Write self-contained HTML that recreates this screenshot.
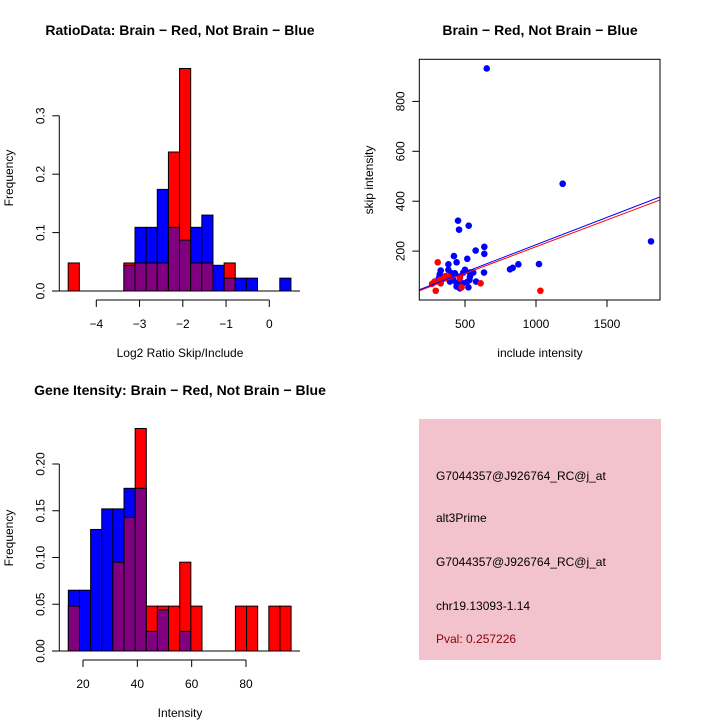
<!DOCTYPE html>
<html><head><meta charset="utf-8"><style>
html,body{margin:0;padding:0;background:#fff;}
svg{display:block;font-family:"Liberation Sans",Arial,sans-serif;}
</style></head><body>
<svg id="s" width="720" height="720" xmlns="http://www.w3.org/2000/svg">
<rect width="720" height="720" fill="#fff"/>
<g id="p1"></g>
<g id="p2"></g>
<g id="p3"></g>
<g>
<rect x="419" y="419" width="242" height="241" fill="#f2c2cd"/>
<text x="436" y="480" font-size="12">G7044357@J926764_RC@j_at</text>
<text x="436" y="522" font-size="12">alt3Prime</text>
<text x="436" y="566" font-size="12">G7044357@J926764_RC@j_at</text>
<text x="436" y="610" font-size="12">chr19.13093-1.14</text>
<text x="436" y="643" font-size="12" fill="#8b0000">Pval: 0.257226</text>
</g>
</svg>
<script>
// Ratio histogram data
const ratioBinStart = -4.65, ratioBinWidth = 0.2575;
const ratioRed  = [0.048,0,0,0,0,0.048,0.048,0.048,0.048,0.238,0.381,0.048,0.048,0,0.048,0,0,0,0,0];
const ratioBlue = [0,0,0,0,0,0.044,0.109,0.109,0.174,0.109,0.087,0.109,0.130,0.044,0.022,0.022,0.022,0,0,0.022];
const ratioXTicks = [-4,-3,-2,-1,0];
const ratioYTicks = [0,0.1,0.2,0.3];
const ratioYLabels = ["0.0","0.1","0.2","0.3"];
// Gene intensity histogram data
const intBinStart = 14.6, intBinWidth = 4.1;
const intRed  = [0.048,0,0,0,0.095,0.143,0.238,0.048,0.048,0.048,0.095,0.048,0,0,0,0.048,0.048,0,0.048,0.048];
const intBlue = [0.065,0.065,0.130,0.152,0.152,0.174,0.174,0.021,0.044,0,0.021,0,0,0,0,0,0,0,0,0];
const intXTicks = [20,40,60,80];
const intYTicks = [0,0.05,0.10,0.15,0.20];
const intYLabels = ["0.00","0.05","0.10","0.15","0.20"];
// Scatter data
const blueX = [653,1188,1810,451,526,458,575,636,636,422,441,516,383,634,578,817,836,876,1021,329,322,317,352,383,406,429,464,500,488,535,558,531,524,464,483,441,394,359,418,512,535,441,364];
const blueY = [932,470,239,322,302,286,202,217,189,180,155,169,147,114,78,127,133,147,148,122,107,92,92,125,111,111,98,125,114,98,114,84,55,51,71,71,78,98,84,75,114,58,98];
const redX = [308,1031,294,268,286,610,329,352,364,383,464,324,476];
const redY = [155,41,41,69,78,71,71,92,100,98,92,85,55];
const blueFit = [2.0,0.2195];
const redFit = [2.8,0.2147];
const scatXTicks = [500,1000,1500];
const scatYTicks = [200,400,600,800];

const NS="http://www.w3.org/2000/svg";
function mk(parent,tag,attrs,text){const e=document.createElementNS(NS,tag);for(const k in attrs)e.setAttribute(k,attrs[k]);if(text!==undefined)e.textContent=text;parent.appendChild(e);return e;}

function histogram(g,o){
  const xs=v=>o.x0px+(v-o.x0v)*o.xk, ys=v=>o.y0px-v*o.yk;
  const n=o.red.length;
  for(let i=0;i<n;i++){
    const a=o.start+i*o.width,b=a+o.width,x1=xs(a),x2=xs(b);
    const r=o.red[i],bl=o.blue[i],mn=Math.min(r,bl),mx=Math.max(r,bl);
    if(mx>0){
      const e=mk(g,'rect',{x:x1,y:ys(mx),width:x2-x1,height:ys(0)-ys(mx),fill:r>=bl?'#ff0000':'#0000ff',stroke:'#000','stroke-width':1});
      
      
    }
    if(mn>0){
      const e=mk(g,'rect',{x:x1,y:ys(mn),width:x2-x1,height:ys(0)-ys(mn),fill:'#800080',stroke:'#000','stroke-width':1});
      
      
    }
  }
  // baseline
  const bl=mk(g,'line',{x1:o.baseL,x2:o.baseR,y1:ys(0),y2:ys(0),stroke:'#000','stroke-width':1});
  
  
  // x axis
  const xa=mk(g,'g',{});
  
  
  const ay=o.xAxisY;
  mk(xa,'line',{x1:xs(o.xt[0]),x2:xs(o.xt[o.xt.length-1]),y1:ay,y2:ay,stroke:'#000'});
  o.xt.forEach(t=>{mk(xa,'line',{x1:xs(t),x2:xs(t),y1:ay,y2:ay+7,stroke:'#000'});
    const l=mk(xa,'text',{x:xs(t),y:ay+28,'font-size':12,'text-anchor':'middle'},String(t).replace('-','\u2212'));
    
    });
  // y axis
  const ya=mk(g,'g',{});
  
  
  const ax=o.yAxisX;
  mk(ya,'line',{x1:ax,x2:ax,y1:ys(o.yt[0]),y2:ys(o.yt[o.yt.length-1]),stroke:'#000'});
  o.yt.forEach((t,i)=>{mk(ya,'line',{x1:ax-7,x2:ax,y1:ys(t),y2:ys(t),stroke:'#000'});
    const l=mk(ya,'text',{x:ax-15,y:ys(t),'font-size':12,'text-anchor':'middle',transform:`rotate(-90 ${ax-15} ${ys(t)})`},o.yl[i]);
    
    });
  const t=mk(g,'text',{x:o.titleX,y:o.titleY,'font-size':14,'font-weight':'bold','text-anchor':'middle'},o.title);
  
  
  const xl=mk(g,'text',{x:o.xlabX,y:o.xlabY,'font-size':12,'text-anchor':'middle'},o.xlab);
  
  
  const yl=mk(g,'text',{x:13,y:o.ylabY,'font-size':12,'text-anchor':'middle',transform:`rotate(-90 13 ${o.ylabY})`},'Frequency');
  
  
}

histogram(document.getElementById('p1'),{red:ratioRed,blue:ratioBlue,start:ratioBinStart,width:ratioBinWidth,
  x0v:0,x0px:269.3,xk:43.25,y0px:291,yk:584,xt:ratioXTicks,yt:ratioYTicks,yl:ratioYLabels,
  baseL:52,baseR:300,xAxisY:300,yAxisX:59.3,title:'RatioData: Brain \u2212 Red, Not Brain \u2212 Blue',titleX:180,titleY:35,
  xlab:'Log2 Ratio Skip/Include',xlabX:180,xlabY:357,ylabY:178});
histogram(document.getElementById('p3'),{red:intRed,blue:intBlue,start:intBinStart,width:intBinWidth,
  x0v:20,x0px:83,xk:2.7167,y0px:651,yk:935,xt:intXTicks,yt:intYTicks,yl:intYLabels,
  baseL:52,baseR:300,xAxisY:660,yAxisX:59.3,title:'Gene Itensity: Brain \u2212 Red, Not Brain \u2212 Blue',titleX:180,titleY:395,
  xlab:'Intensity',xlabX:180,xlabY:717,ylabY:538});

(function(){
  const g=document.getElementById('p2');
  const xs=v=>394+v*0.142, ys=v=>301-v*0.2495;
  const L=419.3,R=660,T=59.3,B=300;
  const c=mk(g,'clipPath',{id:'clip'});mk(c,'rect',{x:L,y:T,width:R-L,height:B-T});
  const pts=mk(g,'g',{'clip-path':'url(#clip)'});
  blueX.forEach((x,i)=>{const e=mk(pts,'circle',{cx:xs(x),cy:ys(blueY[i]),r:3.3,fill:'#0000ff'});
    
    });
  redX.forEach((x,i)=>{const e=mk(pts,'circle',{cx:xs(x),cy:ys(redY[i]),r:3.3,fill:'#ff0000'});
    
    });
  const x0=(L-394)/0.142,x1=(R-394)/0.142;
  const rl=mk(pts,'line',{x1:L,x2:R,y1:ys(redFit[0]+redFit[1]*x0),y2:ys(redFit[0]+redFit[1]*x1),stroke:'#ff0000','stroke-width':1});
  
  
  const bl=mk(pts,'line',{x1:L,x2:R,y1:ys(blueFit[0]+blueFit[1]*x0)-1,y2:ys(blueFit[0]+blueFit[1]*x1)-1,stroke:'#0000ff','stroke-width':1});
  
  
  const box=mk(g,'rect',{x:L,y:T,width:R-L,height:B-T,fill:'none',stroke:'#000'});
  
  
  scatXTicks.forEach(t=>{mk(g,'line',{x1:xs(t),x2:xs(t),y1:B,y2:B+7,stroke:'#000'});
    const l=mk(g,'text',{x:xs(t),y:B+28,'font-size':12,'text-anchor':'middle'},String(t));
    
    });
  scatYTicks.forEach(t=>{mk(g,'line',{x1:L-7,x2:L,y1:ys(t),y2:ys(t),stroke:'#000'});
    const l=mk(g,'text',{x:L-15,y:ys(t),'font-size':12,'text-anchor':'middle',transform:`rotate(-90 ${L-15} ${ys(t)})`},String(t));
    
    });
  const t=mk(g,'text',{x:540,y:35,'font-size':14,'font-weight':'bold','text-anchor':'middle'},'Brain \u2212 Red, Not Brain \u2212 Blue');
  
  
  const xl=mk(g,'text',{x:540,y:357,'font-size':12,'text-anchor':'middle'},'include intensity');
  
  
  const yl=mk(g,'text',{x:373,y:180,'font-size':12,'text-anchor':'middle',transform:'rotate(-90 373 180)'},'skip intensity');
  
  
})();
</script>
</body></html>
